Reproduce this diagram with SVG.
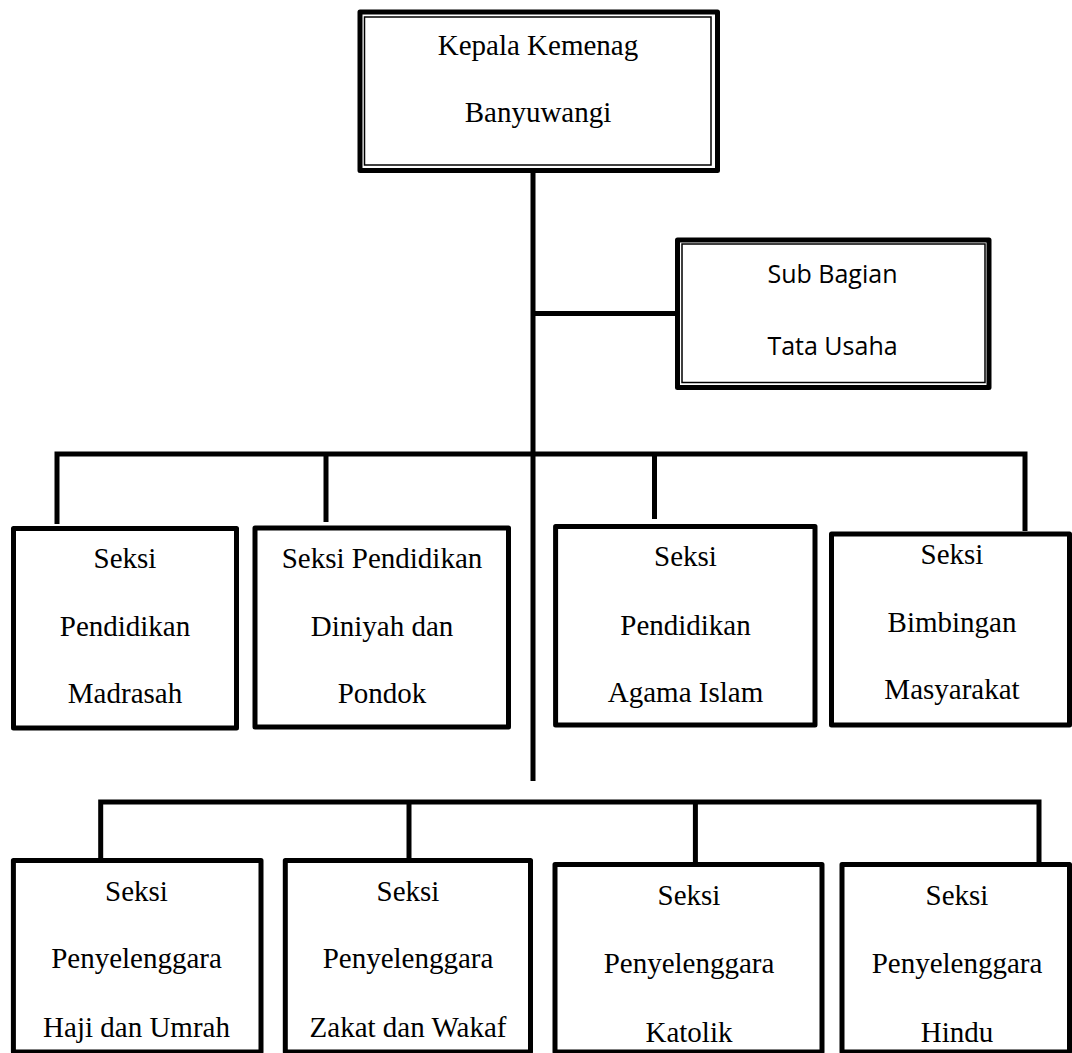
<svg xmlns="http://www.w3.org/2000/svg" width="1072" height="1053" viewBox="0 0 1072 1053">
<style>
.bg{fill:#fff}
.box{fill:#fff;stroke:#000;stroke-width:5;stroke-linejoin:round}
.thin{fill:none;stroke:#000;stroke-width:1.5}
.conn{fill:none;stroke:#000;stroke-width:5;stroke-linejoin:miter}
.t{font-family:"Liberation Serif","Times New Roman",serif;font-size:29px;fill:#000;text-anchor:middle}
.s{font-family:"Open Sans","Liberation Sans",sans-serif;font-size:25px;fill:#000;text-anchor:middle}
</style>
<rect class="bg" x="0" y="0" width="1072" height="1053"/>
<g id="connectors">
<path class="conn" d="M533 173 V781"/>
<path class="conn" d="M533 313.5 H677"/>
<path class="conn" d="M57 524 V454 H1025 V531"/>
<path class="conn" d="M326 454 V522"/>
<path class="conn" d="M654.5 454 V519"/>
<path class="conn" d="M100.7 865 V802 H1039 V864"/>
<path class="conn" d="M409 802 V858"/>
<path class="conn" d="M695.4 802 V864"/>
</g>
<g id="kepala">
<rect class="box" x="360" y="12" width="357.5" height="158.5"/>
<rect class="thin" x="364.5" y="17" width="346.5" height="148"/>
<text class="t" x="538" y="55">Kepala Kemenag</text>
<text class="t" x="538" y="122">Banyuwangi</text>
</g>
<g id="subbagian">
<rect class="box" x="677.5" y="240" width="311.5" height="147.5"/>
<rect class="thin" x="682" y="244" width="303" height="138.5"/>
<text class="s" x="832.5" y="283">Sub Bagian</text>
<text class="s" x="832.5" y="355">Tata Usaha</text>
</g>
<g id="madrasah">
<rect class="box" x="13.5" y="528.5" width="223" height="199.5"/>
<text class="t" x="125" y="568">Seksi</text>
<text class="t" x="125" y="636">Pendidikan</text>
<text class="t" x="125" y="703">Madrasah</text>
</g>
<g id="diniyah">
<rect class="box" x="255" y="528" width="253.5" height="199"/>
<text class="t" x="382" y="568">Seksi Pendidikan</text>
<text class="t" x="382" y="636">Diniyah dan</text>
<text class="t" x="382" y="703">Pondok</text>
</g>
<g id="pai">
<rect class="box" x="555.6" y="526.4" width="259.4" height="198.6"/>
<text class="t" x="685.5" y="566">Seksi</text>
<text class="t" x="685.5" y="635">Pendidikan</text>
<text class="t" x="685.5" y="702">Agama Islam</text>
</g>
<g id="bimas">
<rect class="box" x="831.5" y="534" width="238" height="191"/>
<text class="t" x="952" y="564">Seksi</text>
<text class="t" x="952" y="632">Bimbingan</text>
<text class="t" x="952" y="699">Masyarakat</text>
</g>
<g id="haji">
<rect class="box" x="13.4" y="860.5" width="247.6" height="191.5"/>
<text class="t" x="136.5" y="901">Seksi</text>
<text class="t" x="136.5" y="968">Penyelenggara</text>
<text class="t" x="136.5" y="1037">Haji dan Umrah</text>
</g>
<g id="zakat">
<rect class="box" x="285.3" y="860.5" width="245.2" height="191.5"/>
<text class="t" x="408" y="901">Seksi</text>
<text class="t" x="408" y="968">Penyelenggara</text>
<text class="t" x="408" y="1037">Zakat dan Wakaf</text>
</g>
<g id="katolik">
<rect class="box" x="555" y="864.5" width="267" height="187.5"/>
<text class="t" x="689" y="905">Seksi</text>
<text class="t" x="689" y="973">Penyelenggara</text>
<text class="t" x="689" y="1042">Katolik</text>
</g>
<g id="hindu">
<rect class="box" x="842" y="864.5" width="227.5" height="187.5"/>
<text class="t" x="957" y="905">Seksi</text>
<text class="t" x="957" y="973">Penyelenggara</text>
<text class="t" x="957" y="1042">Hindu</text>
</g>
</svg>
